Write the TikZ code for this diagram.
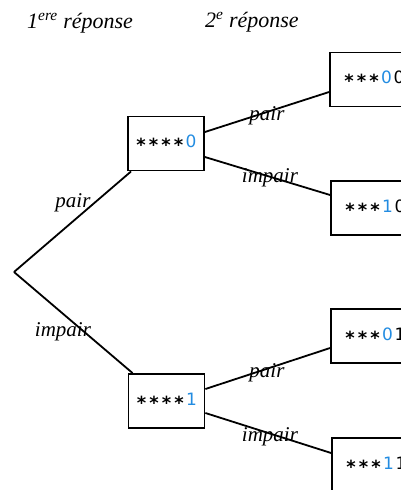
\documentclass[tikz,border=0pt]{standalone}
\usepackage{fontspec}
\setmainfont{Liberation Serif}
\newfontfamily\digfont{DejaVu Sans}
\newfontfamily\starfont{DejaVu Sans Bold}
\definecolor{digblue}{RGB}{35,140,225}
\newcommand\slotc[1]{\makebox[12.5pt]{#1}}
\newcommand\st{\slotc{\raisebox{-0.24em}{\starfont\fontsize{18}{18}\selectfont *}}}
\newcommand\bd[1]{\slotc{\textcolor{digblue}{#1}}}
\newcommand\kd[1]{\slotc{#1}}
\begin{document}
\begin{tikzpicture}[x=1pt,y=-1pt,
  box/.style={draw, line width=1.8pt, inner sep=0pt, minimum height=54pt,
    font=\digfont\fontsize{17}{17}\selectfont},
  lbox/.style={box, minimum width=76pt},
  rbox/.style={box, minimum width=88pt},
  lab/.style={font=\fontsize{21}{21}\selectfont\itshape, inner sep=0pt},
  head/.style={font=\fontsize{22}{22}\selectfont\itshape, inner sep=0pt, anchor=base west},
  branch/.style={line width=1.8pt}]
\useasboundingbox (0,0) rectangle (401,490);
\clip (0,0) rectangle (401,490);

\node[head] (h1) at (27,28) {1\textsuperscript{ere} réponse};
\node[head] (h2) at (205,27) {2\textsuperscript{e} réponse};

\coordinate (root) at (14,272);
\node[lbox] (b0) at (166,143.5) {\st\st\st\st\bd{0}};
\node[lbox] (b1) at (166.5,401) {\st\st\st\st\bd{1}};
\node[rbox] (r00) at (374,79.5) {\st\st\st\bd{0}\kd{0}};
\node[rbox] (r10) at (375,208) {\st\st\st\bd{1}\kd{0}};
\node[rbox] (r01) at (375,336) {\st\st\st\bd{0}\kd{1}};
\node[rbox] (r11) at (376,465) {\st\st\st\bd{1}\kd{1}};

\draw[branch] (root) -- ([xshift=4pt]b0.south west);
\draw[branch] (root) -- ([xshift=5pt]b1.north west);
\draw[branch] ([yshift=11.5pt]b0.east) -- ([yshift=-12.5pt]r00.west);
\draw[branch] ([yshift=-13.5pt]b0.east) -- ([yshift=13pt]r10.west);
\draw[branch] ([yshift=12pt]b1.east) -- ([yshift=-12pt]r01.west);
\draw[branch] ([yshift=-12pt]b1.east) -- ([yshift=12pt]r11.west);

\node[lab] (l1) at (73,203) {pair};
\node[lab] (l2) at (63,332) {impair};
\node[lab] (l3) at (267,116) {pair};
\node[lab] (l4) at (270,178) {impair};
\node[lab] (l5) at (267,373) {pair};
\node[lab] (l6) at (270,437) {impair};
\end{tikzpicture}
\end{document}
